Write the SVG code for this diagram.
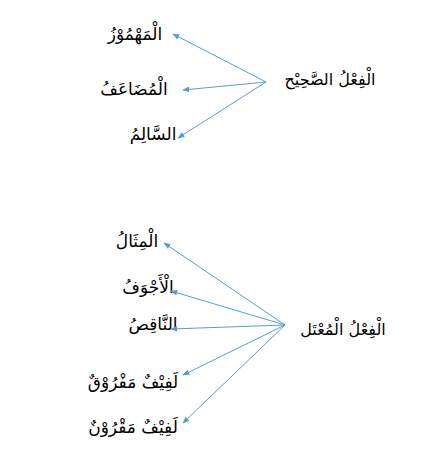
<svg xmlns="http://www.w3.org/2000/svg" width="429" height="454" viewBox="0 0 429 454">
<style>
.t{font-family:"DejaVu Sans",sans-serif;font-size:17px;fill:#000;text-anchor:middle}
.h{font-size:16px}
.c line{stroke:#5b9bd5;stroke-width:1;marker-end:url(#a)}
</style>
<defs>
<marker id="a" viewBox="0 0 10 10" refX="9" refY="5" markerWidth="7" markerHeight="7" orient="auto" markerUnits="userSpaceOnUse">
<path d="M0,1 L10,5 L0,9 Z" fill="#5b9bd5"/>
</marker>
</defs>
<rect width="429" height="454" fill="#fff"/>
<g id="sahih"><text class="t h" x="330" y="85">الْفِعْلُ الصَّحِيْح</text></g>
<g id="mahmuz"><text class="t" x="135" y="40">الْمَهْمُوْزُ</text></g>
<g id="mudaaf"><text class="t" x="134" y="95">الْمُضَاعَفُ</text></g>
<g id="salim"><text class="t" x="153" y="140">السَّالِمُ</text></g>
<g id="mutal"><text class="t h" x="343" y="335">الْفِعْلُ الْمُعْتَل</text></g>
<g id="mithal"><text class="t" x="137" y="247">الْمِثَالُ</text></g>
<g id="ajwaf"><text class="t" x="148" y="293">الْأَجْوَفُ</text></g>
<g id="naqis"><text class="t" x="153" y="330">النَّاقِصُ</text></g>
<g id="mafruq"><text class="t" x="133" y="388">لَفِيْفٌ مَفْرُوْقٌ</text></g>
<g id="maqrun"><text class="t" x="133" y="433">لَفِيْفٌ مَقْرُوْنٌ</text></g>
<g class="c" id="connectors">
<line x1="266" y1="82" x2="173" y2="34"/>
<line x1="266" y1="82" x2="183" y2="90"/>
<line x1="266" y1="82" x2="178" y2="138"/>
<line x1="285" y1="325" x2="164" y2="243"/>
<line x1="285" y1="325" x2="171" y2="291"/>
<line x1="285" y1="325" x2="171" y2="329"/>
<line x1="285" y1="325" x2="183" y2="375"/>
<line x1="285" y1="325" x2="183" y2="423"/>
</g>
</svg>
